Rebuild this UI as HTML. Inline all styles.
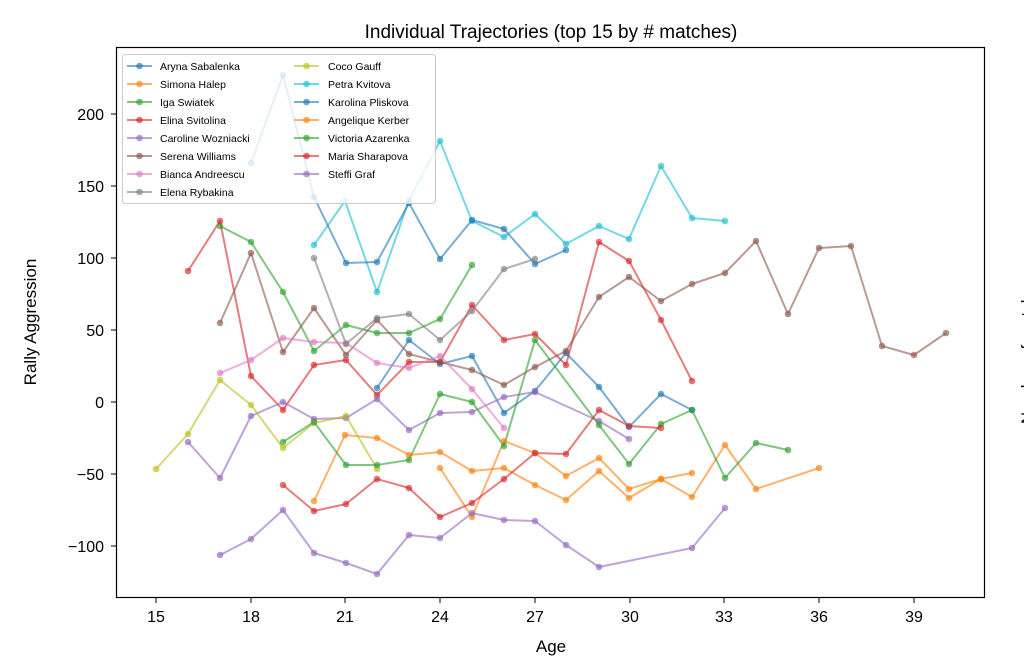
<!DOCTYPE html>
<html><head><meta charset="utf-8"><style>html,body{margin:0;padding:0;background:#fff}svg{display:block}text{font-family:"Liberation Sans","DejaVu Sans",sans-serif;fill:#000}</style></head><body>
<svg width="1024" height="661" viewBox="0 0 1024 661" xmlns="http://www.w3.org/2000/svg">
<rect width="1024" height="661" fill="#fff"/>
<text x="551" y="38" font-size="19" text-anchor="middle">Individual Trajectories (top 15 by # matches)</text>
<g fill="none" stroke-width="2" stroke-opacity="0.6" stroke-linejoin="round">
<polyline stroke="#1f77b4" points="377,388 409,340 440,364 472,356 504,413 535,391 566,353 599,387 629,427 661,394 692,410"/>
<polyline stroke="#ff7f0e" points="314,501 345,435 377,438 409,455 440,452 472,471 504,468 535,485 566,500 599,471 629,498 661,479 692,473"/>
<polyline stroke="#2ca02c" points="220,226 251,242 283,292 314,351 346,325 377,333 409,333 440,319 472,265"/>
<polyline stroke="#d62728" points="188,271 220,221 251,376 283,410 314,365 346,360 377,395 409,362 440,362 472,305 504,340 535,334 566,365 599,242 629,261 661,320 692,381"/>
<polyline stroke="#9467bd" points="188,442 220,478 251,416 283,402 314,419 346,418 377,399 409,430 440,413 472,412 504,397 535,392 599,421 629,439"/>
<polyline stroke="#8c564b" points="220,323 251,253 283,352 314,308 346,355 377,320 409,354 440,362 472,370 504,385 535,367 566,351 599,297 629,277 661,301 692,284 725,273 756,241 788,314 819,248 851,246 882,346 914,355 946,333"/>
<polyline stroke="#e377c2" points="220,373 251,360 283,338 314,342 346,343 377,363 409,368 440,356 472,389 504,428"/>
<polyline stroke="#7f7f7f" points="314,258 346,344 377,318 409,314 440,340 472,311 504,269 535,259"/>
<polyline stroke="#bcbd22" points="156,469 188,434 220,380 251,405 283,448 314,423 346,416 377,469"/>
<polyline stroke="#17becf" points="314,245 345,201 377,292 409,200 440,141 472,221 504,237 535,214 566,244 599,226 629,239 661,166 692,218 725,221"/>
<polyline stroke="#1f77b4" points="251,163 283,75 314,197 346,263 377,262 409,203 440,259 472,220 504,229 535,264 566,250"/>
<polyline stroke="#ff7f0e" points="440,468 472,517 504,441 535,453 566,476 599,458 629,489 661,479 692,497 725,445 756,489 819,468"/>
<polyline stroke="#2ca02c" points="283,442 314,422 346,465 377,465 409,460 440,394 472,402 504,446 535,340 599,425 629,464 661,424 692,410 725,478 756,443 788,450"/>
<polyline stroke="#d62728" points="283,485 314,511 346,504 377,479 409,488 440,517 472,503 504,479 535,453 566,454 599,410 629,426 661,428"/>
<polyline stroke="#9467bd" points="220,555 251,539 283,510 314,553 346,563 377,574 409,535 440,538 472,513 504,520 535,521 566,545 599,567 692,548 725,508"/>
</g>
<g id="m" fill-opacity="0.65"></g>
<script>
(function(){var g=document.getElementById('m');var ps=document.querySelectorAll('polyline');ps.forEach(function(p){var c=p.getAttribute('stroke');p.getAttribute('points').trim().split(/\s+/).forEach(function(s){var a=s.split(',');var e=document.createElementNS('http://www.w3.org/2000/svg','circle');e.setAttribute('cx',a[0]);e.setAttribute('cy',a[1]);e.setAttribute('r','3.3');e.setAttribute('fill',c);g.appendChild(e);});});})();
</script>
<rect x="116.5" y="47.5" width="868" height="550" fill="none" stroke="#000" stroke-width="1.2"/>
<g stroke="#000" stroke-width="1">
<line x1="111" y1="114" x2="116" y2="114"/><line x1="111" y1="186" x2="116" y2="186"/><line x1="111" y1="258" x2="116" y2="258"/><line x1="111" y1="330" x2="116" y2="330"/><line x1="111" y1="402" x2="116" y2="402"/><line x1="111" y1="474" x2="116" y2="474"/><line x1="111" y1="546" x2="116" y2="546"/>
<line x1="156" y1="598" x2="156" y2="603"/><line x1="251" y1="598" x2="251" y2="603"/><line x1="345" y1="598" x2="345" y2="603"/><line x1="440" y1="598" x2="440" y2="603"/><line x1="535" y1="598" x2="535" y2="603"/><line x1="630" y1="598" x2="630" y2="603"/><line x1="724" y1="598" x2="724" y2="603"/><line x1="819" y1="598" x2="819" y2="603"/><line x1="914" y1="598" x2="914" y2="603"/>
</g>
<g font-size="16" text-anchor="end">
<text x="104" y="120">200</text><text x="104" y="192">150</text><text x="104" y="264">100</text><text x="104" y="336">50</text><text x="104" y="408">0</text><text x="104" y="480">−50</text><text x="104" y="552">−100</text>
</g>
<g font-size="16" text-anchor="middle">
<text x="156" y="622">15</text><text x="251" y="622">18</text><text x="345" y="622">21</text><text x="440" y="622">24</text><text x="535" y="622">27</text><text x="630" y="622">30</text><text x="724" y="622">33</text><text x="819" y="622">36</text><text x="914" y="622">39</text>
</g>
<text x="551" y="652" font-size="17" text-anchor="middle">Age</text>
<text transform="translate(36,322) rotate(-90)" font-size="17" text-anchor="middle">Rally Aggression</text>
<text transform="translate(1033,350) rotate(-90)" font-size="17" text-anchor="middle">Number of matches</text>
<rect x="122.5" y="54.5" width="313" height="149" rx="3" fill="#fff" fill-opacity="0.8" stroke="#ccc"/>
<g stroke-width="2" stroke-opacity="0.6" font-size="10.5">
<g stroke="#1f77b4"><line x1="127" y1="66" x2="152" y2="66"/><circle cx="139.5" cy="66" r="3.3" fill="#1f77b4" fill-opacity="0.65" stroke="none"/></g><text x="160" y="70">Aryna Sabalenka</text>
<g stroke="#ff7f0e"><line x1="127" y1="84" x2="152" y2="84"/><circle cx="139.5" cy="84" r="3.3" fill="#ff7f0e" fill-opacity="0.65" stroke="none"/></g><text x="160" y="88">Simona Halep</text>
<g stroke="#2ca02c"><line x1="127" y1="102" x2="152" y2="102"/><circle cx="139.5" cy="102" r="3.3" fill="#2ca02c" fill-opacity="0.65" stroke="none"/></g><text x="160" y="106">Iga Swiatek</text>
<g stroke="#d62728"><line x1="127" y1="120" x2="152" y2="120"/><circle cx="139.5" cy="120" r="3.3" fill="#d62728" fill-opacity="0.65" stroke="none"/></g><text x="160" y="124">Elina Svitolina</text>
<g stroke="#9467bd"><line x1="127" y1="138" x2="152" y2="138"/><circle cx="139.5" cy="138" r="3.3" fill="#9467bd" fill-opacity="0.65" stroke="none"/></g><text x="160" y="142">Caroline Wozniacki</text>
<g stroke="#8c564b"><line x1="127" y1="156" x2="152" y2="156"/><circle cx="139.5" cy="156" r="3.3" fill="#8c564b" fill-opacity="0.65" stroke="none"/></g><text x="160" y="160">Serena Williams</text>
<g stroke="#e377c2"><line x1="127" y1="174" x2="152" y2="174"/><circle cx="139.5" cy="174" r="3.3" fill="#e377c2" fill-opacity="0.65" stroke="none"/></g><text x="160" y="178">Bianca Andreescu</text>
<g stroke="#7f7f7f"><line x1="127" y1="192" x2="152" y2="192"/><circle cx="139.5" cy="192" r="3.3" fill="#7f7f7f" fill-opacity="0.65" stroke="none"/></g><text x="160" y="196">Elena Rybakina</text>
<g stroke="#bcbd22"><line x1="294" y1="66" x2="319" y2="66"/><circle cx="306.5" cy="66" r="3.3" fill="#bcbd22" fill-opacity="0.65" stroke="none"/></g><text x="328" y="70">Coco Gauff</text>
<g stroke="#17becf"><line x1="294" y1="84" x2="319" y2="84"/><circle cx="306.5" cy="84" r="3.3" fill="#17becf" fill-opacity="0.65" stroke="none"/></g><text x="328" y="88">Petra Kvitova</text>
<g stroke="#1f77b4"><line x1="294" y1="102" x2="319" y2="102"/><circle cx="306.5" cy="102" r="3.3" fill="#1f77b4" fill-opacity="0.65" stroke="none"/></g><text x="328" y="106">Karolina Pliskova</text>
<g stroke="#ff7f0e"><line x1="294" y1="120" x2="319" y2="120"/><circle cx="306.5" cy="120" r="3.3" fill="#ff7f0e" fill-opacity="0.65" stroke="none"/></g><text x="328" y="124">Angelique Kerber</text>
<g stroke="#2ca02c"><line x1="294" y1="138" x2="319" y2="138"/><circle cx="306.5" cy="138" r="3.3" fill="#2ca02c" fill-opacity="0.65" stroke="none"/></g><text x="328" y="142">Victoria Azarenka</text>
<g stroke="#d62728"><line x1="294" y1="156" x2="319" y2="156"/><circle cx="306.5" cy="156" r="3.3" fill="#d62728" fill-opacity="0.65" stroke="none"/></g><text x="328" y="160">Maria Sharapova</text>
<g stroke="#9467bd"><line x1="294" y1="174" x2="319" y2="174"/><circle cx="306.5" cy="174" r="3.3" fill="#9467bd" fill-opacity="0.65" stroke="none"/></g><text x="328" y="178">Steffi Graf</text>
</g>
</svg>
</body></html>
